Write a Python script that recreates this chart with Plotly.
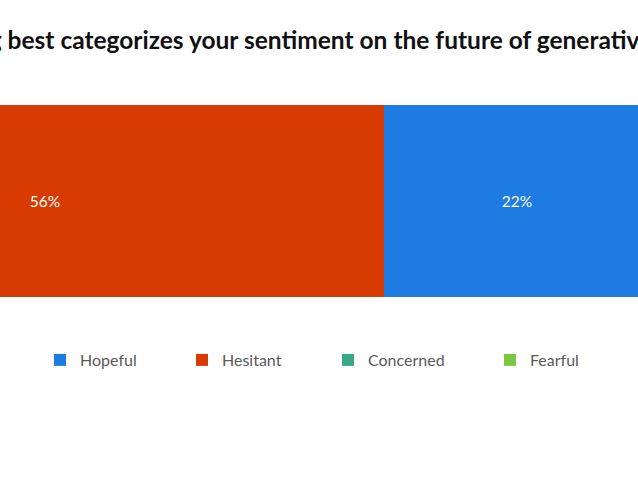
import plotly.graph_objects as go

# Data
question = ["Sentiment"]
categories = ["Hopeful", "Hesitant", "Concerned", "Fearful"]
shares = [22, 56, 18, 4]
share_labels = ["22%", "56%", "", ""]
colors = ["#1E7BE1", "#D83B01", "#3BA889", "#7DC642"]
title_text = "Which of the following best categorizes your sentiment on the future of generative AI?"

W, H = 638, 478
legend_ids = ["legend", "legend2", "legend3", "legend4"]
legend_text_px = [80, 222, 368, 530]

fig = go.Figure()
for cat, val, lab, col, lg in zip(categories, shares, share_labels, colors, legend_ids):
    fig.add_trace(go.Bar(
        y=question, x=[val], name=cat, orientation="h",
        marker=dict(color=col, line=dict(width=0)),
        text=[lab], textposition="inside", insidetextanchor="middle",
        textfont=dict(color="white", size=15.5, family="Lato"),
        width=1, legend=lg, hoverinfo="name+x",
    ))

layout = dict(
    barmode="stack",
    width=W, height=H,
    showlegend=True,
    margin=dict(l=0, r=0, t=105, b=181),
    paper_bgcolor="white", plot_bgcolor="white",
    xaxis=dict(range=[53.7, 0.99], visible=False, fixedrange=True),
    yaxis=dict(range=[-0.5, 0.5], visible=False, fixedrange=True),
    bargap=0,
    title=dict(text=title_text, x=0.3495, xanchor="center", xref="paper",
               y=1 - 40 / H, yanchor="middle", yref="container",
               font=dict(family="Lato", size=24.5, color="#111111", weight="bold")),
    font=dict(family="Lato"),
)
for lg, tx in zip(legend_ids, legend_text_px):
    layout[lg] = dict(
        x=(tx - 40) / W, xanchor="left", xref="paper",
        y=1 - 360 / H, yanchor="middle", yref="container",
        orientation="h", bgcolor="rgba(0,0,0,0)",
        font=dict(family="Lato", size=16, color="#595959"),
        visible=True,
    )
fig.update_layout(**layout)
fig.write_html("out.html", config={"displayModeBar": False},
               post_script="document.body.style.margin='0';")
